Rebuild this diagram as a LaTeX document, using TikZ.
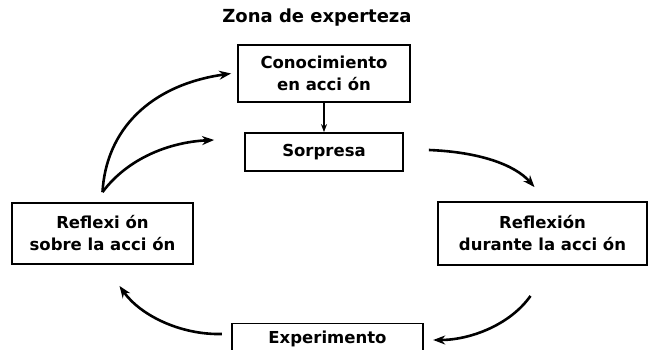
\documentclass[tikz,border=0pt]{standalone}
\usepackage{fontspec}
\setmainfont{DejaVu Sans}
\usetikzlibrary{arrows.meta}
\begin{document}
\begin{tikzpicture}[x=1pt,y=-1pt,
  box/.style={draw,line width=1.8pt,inner sep=0pt,align=center,font=\fontsize{16.5}{22}\selectfont\bfseries},
  flow/.style={line width=2.6pt,-{Stealth[length=12pt,width=9pt]}},
  lbl/.style={font=\fontsize{16.5}{22}\selectfont\bfseries}]
\useasboundingbox (0,0) rectangle (648,350);
\node[lbl,font=\fontsize{18}{22}\selectfont\bfseries] (title) at (317,18) {Zona de experteza};
\node[box,minimum width=172pt,minimum height=57pt] (con) at (324,73.5) {Conocimiento\\en acci ón};
\node[box,minimum width=158pt,minimum height=38pt] (sor) at (324,152) {Sorpresa};
\node[box,minimum width=209pt,minimum height=63pt] (dur) at (542.5,233.5) {Reflexión\\durante la acci ón};
\node[box,minimum width=181pt,minimum height=61pt] (sob) at (102.5,233.5) {Reflexi ón\\sobre la acci ón};
\node[lbl,minimum width=191pt,minimum height=37pt] (exp) at (327.5,339) {Experimento};
\draw[line width=1pt] (232,350) -- (232,323) -- (423,323) -- (423,350);
\draw[line width=2.6pt] (232,323) -- (232,350) (423,323) -- (423,350);
\draw[line width=2pt,-{Stealth[length=8pt,width=6pt]}] (con.south) -- (sor.north);
\coordinate (s1) at ([yshift=10pt]sob.north);
\coordinate (e1) at ([xshift=-6pt]con.west);
\coordinate (e2) at ([xshift=-30pt,yshift=12pt]sor.west);
\coordinate (s3) at ([xshift=25pt,yshift=2pt]sor.east);
\coordinate (e3) at ([xshift=-8pt,yshift=14pt]dur.north);
\coordinate (s4) at ([xshift=-12pt,yshift=-30pt]dur.south);
\coordinate (e4) at ([xshift=10pt,yshift=-1pt]exp.east);
\coordinate (s5) at ([xshift=-10pt,yshift=5pt]exp.west);
\coordinate (e5) at ([xshift=17pt,yshift=-21pt]sob.south);
\draw[flow] (s1) .. controls (106,130) and (150,85) .. (e1);
\draw[flow] (s1) .. controls (128,158) and (170,142) .. (e2);
\draw[flow] (s3) .. controls (480,152) and (515,165) .. (e3);
\draw[flow] (s4) .. controls (510,325) and (470,340) .. (e4);
\draw[flow] (s5) .. controls (180,335) and (140,315) .. (e5);
\end{tikzpicture}
\end{document}
